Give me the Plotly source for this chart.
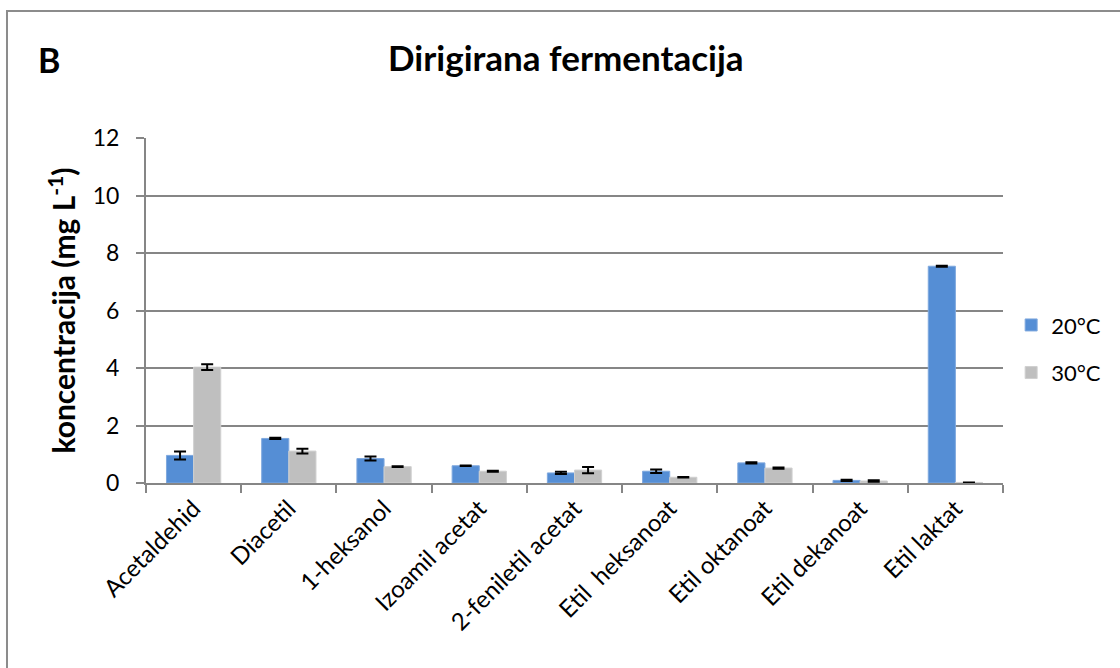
import plotly.graph_objects as go

categories = ["Acetaldehid", "Diacetil", "1-heksanol", "Izoamil acetat", "2-feniletil acetat",
              "Etil  heksanoat", "Etil oktanoat", "Etil dekanoat", "Etil laktat"]
vals_20 = [0.96, 1.55, 0.85, 0.60, 0.35, 0.41, 0.70, 0.09, 7.54]
err_20 = [0.14, 0.02, 0.07, 0.01, 0.04, 0.06, 0.02, 0.02, 0.02]
vals_30 = [4.03, 1.11, 0.57, 0.41, 0.45, 0.20, 0.52, 0.07, 0.02]
err_30 = [0.10, 0.08, 0.01, 0.02, 0.11, 0.01, 0.02, 0.03, 0.0]
y_ticks = [0, 2, 4, 6, 8, 10, 12]

FONT = "Lato, 'Open Sans', sans-serif"

fig = go.Figure()
fig.add_trace(go.Bar(
    x=categories, y=vals_20, name="20°C", legendgroup="a",
    marker=dict(color="#558ED5", line=dict(color="#7FA8DE", width=1)),
    error_y=dict(type="data", array=err_20, color="black", thickness=2, width=6),
))
fig.add_trace(go.Bar(
    x=categories, y=vals_30, name="30°C", legendgroup="b",
    marker=dict(color="#BFBFBF", line=dict(color="#D0D0D0", width=1)),
    error_y=dict(type="data", array=err_30, color="black", thickness=2, width=6),
))

fig.update_layout(
    width=1120, height=668,
    margin=dict(l=146, r=117, t=138, b=185),
    paper_bgcolor="white", plot_bgcolor="white",
    font=dict(family=FONT, color="black"),
    barmode="group", bargap=0.43, bargroupgap=0,
    showlegend=True,
    legend=dict(x=1.0095, y=0.388, xanchor="left", yanchor="middle",
                font=dict(size=22, family=FONT), tracegroupgap=16,
                bgcolor="rgba(0,0,0,0)", itemwidth=30),
    xaxis=dict(
        showline=True, linecolor="#868686", linewidth=2,
        ticks="outside", tickson="boundaries", ticklen=8, tickcolor="#868686", tickwidth=2,
        tickangle=-45, tickfont=dict(size=24, family=FONT, color="black"),
        showgrid=False,
    ),
    yaxis=dict(
        range=[0, 12], tickvals=y_ticks,
        showline=True, linecolor="#868686", linewidth=2,
        ticks="outside", ticklen=8, tickcolor="#868686", tickwidth=2,
        ticklabelstandoff=12,
        showgrid=True, gridcolor="#868686", gridwidth=2,
        tickfont=dict(size=23, family=FONT, color="black"),
        title=dict(text="<b>koncentracija (mg L<sup>-1</sup>)</b>",
                   font=dict(size=30, family=FONT, color="black"), standoff=8),
        zeroline=False,
    ),
    shapes=[dict(type="rect", xref="paper", yref="paper",
                 x0=-0.1622, x1=1.25, y0=-0.6, y1=1.368,
                 line=dict(color="#8C8C8C", width=2), fillcolor="rgba(0,0,0,0)", layer="below")],
    annotations=[
        dict(text="<b>Dirigirana fermentacija</b>", xref="paper", yref="paper",
             x=(566 - 146) / 857, y=(483 - 57) / 345, xanchor="center", yanchor="middle",
             showarrow=False, font=dict(size=35, family=FONT, color="black")),
        dict(text="<b>B</b>", xref="paper", yref="paper",
             x=(36 - 146) / 857, y=(483 - 60) / 345, xanchor="left", yanchor="middle",
             showarrow=False, font=dict(size=34, family=FONT, color="black")),
    ],
)

fig.write_html("out.html", config={"displayModeBar": False},
               post_script="document.body.style.margin='0';")
